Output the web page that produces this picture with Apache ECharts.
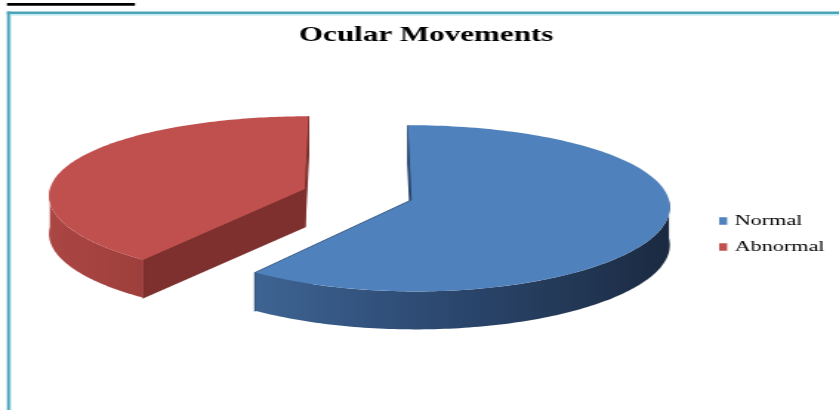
<!DOCTYPE html>
<html>
<head>
<meta charset="utf-8">
<script src="https://cdn.jsdelivr.net/npm/echarts@6/dist/echarts.min.js"></script>
<style>
  html, body { margin: 0; padding: 0; background: #fff; overflow: hidden; }
  #wrap { width: 839px; height: 410px; overflow: hidden; position: relative; background: #fff; }
  #chart { width: 567px; height: 410px; transform: scaleX(1.4797); transform-origin: 0 0; }
</style>
</head>
<body>
<div id="wrap"><div id="chart"></div></div>
<script>
// ---- data ----
const categories = ['Normal', 'Abnormal'];
const values = [18, 12];            // n = 30
const chartTitle = 'Ocular Movements';

// ---- styling / geometry constants ----
const sliceStyles = [
  { top: '#4F81BD', cut: '#2b466b', wall: ['#4a75a8', '#2e4c75', '#1a293f'] },
  { top: '#C0504D', cut: '#7e302e', wall: ['#ab4643', '#8e3634', '#5a201e'] }
];
const EXPLODE = 0.22;   // explosion distance (fraction of radius)
const THICK = 0.463;    // slice thickness in y-axis units
const PX = 0.07;        // horizontal perspective
const PY = 0.10;        // vertical perspective

function hexToRgb(h) { h = h.replace('#', ''); return [0, 2, 4].map(i => parseInt(h.substr(i, 2), 16)); }
function mix(c1, c2, t) {
  const a = hexToRgb(c1), b = hexToRgb(c2);
  return 'rgb(' + a.map((v, i) => Math.round(v + (b[i] - v) * t)).join(',') + ')';
}
function shade(stops, t) {
  t = Math.max(0, Math.min(1, t));
  return t < 0.5 ? mix(stops[0], stops[1], t / 0.5) : mix(stops[1], stops[2], (t - 0.5) / 0.5);
}

function makeRender(i) {
  return function (params, api) {
    const total = values.reduce((s, v) => s + v, 0);
    let before = 0;
    for (let k = 0; k < i; k++) before += values[k];
    const a0 = before / total * 2 * Math.PI;
    const a1 = (before + api.value(2)) / total * 2 * Math.PI;
    const mid = (a0 + a1) / 2;
    const ou = EXPLODE * Math.sin(mid), ow = -EXPLODE * Math.cos(mid);
    const proj = (u, w, h) => api.coord([u * (1 + PX * w), -(w * (1 + PY * w)) + h]);
    const at = (ang, r, h) => proj(ou + r * Math.sin(ang), ow - r * Math.cos(ang), h);
    const st = sliceStyles[i];
    const children = [];

    // radial (cut) faces
    [[a0, a0 - Math.PI / 2], [a1, a1 + Math.PI / 2]].forEach(([ang, nAng]) => {
      const facing = -Math.cos(nAng);
      children.push({
        type: 'polygon', z2: facing > 0.01 ? 2 : 0,
        shape: { points: [at(ang, 0, 0), at(ang, 1, 0), at(ang, 1, -THICK), at(ang, 0, -THICK)] },
        style: { fill: st.cut, stroke: st.cut, lineWidth: 1.2 }
      });
    });

    // outer wall (front half only), one polygon with a horizontal gradient
    const s = Math.max(a0, Math.PI / 2), e = Math.min(a1, 3 * Math.PI / 2);
    if (e > s) {
      const N = 120;
      const topPts = [], botPts = [], samples = [];
      for (let k = 0; k <= N; k++) {
        const th = s + (e - s) * k / N;
        const p = at(th, 1, 0);
        topPts.push(p);
        botPts.push(at(th, 1, -THICK));
        samples.push({ x: p[0], c: shade(st.wall, (Math.sin(th) + 1) / 2) });
      }
      const xs = topPts.concat(botPts).map(p => p[0]);
      const minX = Math.min.apply(null, xs), maxX = Math.max.apply(null, xs);
      const stops = samples
        .map(sm => ({ offset: (sm.x - minX) / (maxX - minX), color: sm.c }))
        .sort((a, b) => a.offset - b.offset)
        .filter((sm, idx) => idx % 6 === 0 || idx === samples.length - 1);
      const grad = new echarts.graphic.LinearGradient(0, 0, 1, 0, stops);
      children.push({
        type: 'polygon', z2: 3,
        shape: { points: topPts.concat(botPts.reverse()) },
        style: { fill: grad }
      });
    }

    // top face
    const pts = [at(a0, 0, 0)];
    const M = 160;
    for (let k = 0; k <= M; k++) pts.push(at(a0 + (a1 - a0) * k / M, 1, 0));
    children.push({ type: 'polygon', z2: 5, shape: { points: pts }, style: { fill: st.top } });

    return { type: 'group', children: children };
  };
}

const chart = echarts.init(document.getElementById('chart'), null, { renderer: 'canvas' });
chart.setOption({
  animation: false,
  backgroundColor: '#fff',
  title: {
    text: chartTitle, left: 288, top: 25, textAlign: 'center', padding: 0,
    textStyle: { fontFamily: 'Liberation Serif', fontWeight: 'bold', fontSize: 21, color: '#000' }
  },
  legend: {
    orient: 'vertical', left: 486, top: 213, padding: 0,
    data: categories,
    icon: 'rect', itemWidth: 5.4, itemHeight: 7.5, itemGap: 10, itemTextGap: 4,
    textStyle: { fontFamily: 'Liberation Serif', fontSize: 15, color: '#000', lineHeight: 16 }
  },
  grid: { left: 68.9, width: 346, top: 112.5, height: 164 },
  xAxis: { type: 'value', min: -1, max: 1, show: false },
  yAxis: { type: 'value', min: -1, max: 1, show: false },
  graphic: [
    { type: 'rect', shape: { x: 4.73, y: 3, width: 86.5, height: 2.7 }, style: { fill: '#000' } },
    { type: 'rect', shape: { x: 4.73, y: 11.5, width: 570, height: 2.7 }, style: { fill: '#4aa5b9' } },
    { type: 'rect', shape: { x: 6.8, y: 14.2, width: 570, height: 1.5 }, style: { fill: '#c8eef5' } },
    { type: 'rect', shape: { x: 4.73, y: 11.5, width: 2.1, height: 410 }, style: { fill: '#4aa5b9' } },
    { type: 'rect', shape: { x: 6.83, y: 14.2, width: 1.0, height: 410 }, style: { fill: '#c8eef5' } }
  ],
  series: categories.map((name, i) => ({
    type: 'custom',
    name: name,
    coordinateSystem: 'cartesian2d',
    z: i === 0 ? 3 : 2,
    itemStyle: { color: sliceStyles[i].top },
    renderItem: makeRender(i),
    encode: { x: 0, y: 1 },
    data: [{ name: name, value: [0, 0, values[i]] }]
  }))
});
</script>
</body>
</html>
